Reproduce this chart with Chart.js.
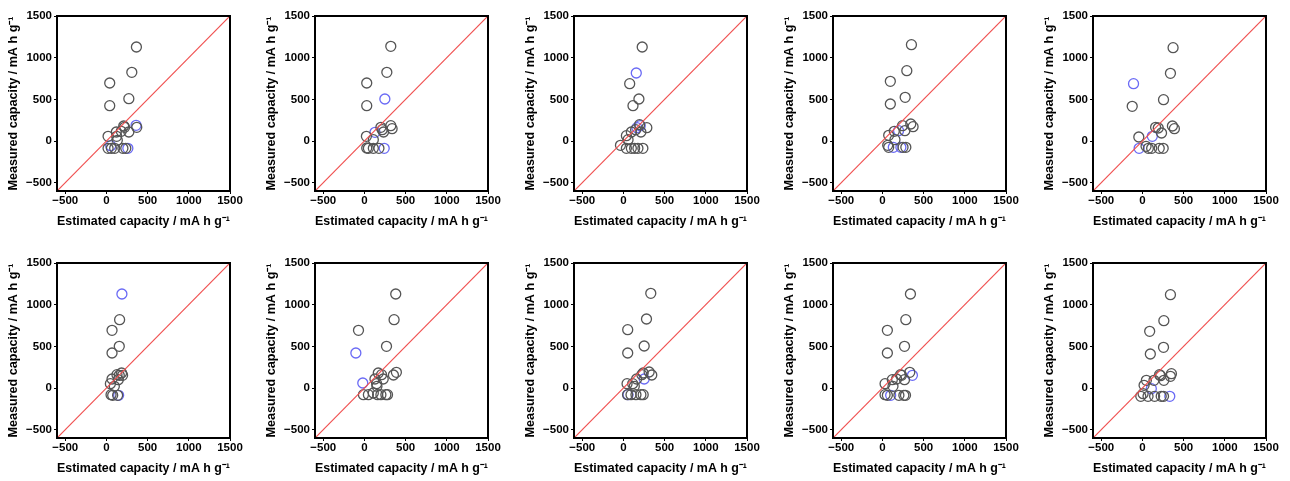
<!DOCTYPE html>
<html>
<head>
<meta charset="utf-8">
<script src="https://cdn.jsdelivr.net/npm/chart.js@4/dist/chart.umd.min.js"></script>
<style>
  body { margin: 0; background: #ffffff; }
  #wrap { position: relative; width: 1290px; height: 481px; }
  .panel { position: absolute; }
</style>
</head>
<body>
<div id="wrap"></div>
<script>
// axis ticks (same for every panel)
const axisTicks = [-500, 0, 500, 1000, 1500];
const axisMin = -600;
const axisMax = 1500;

// grey points: estimated (x) and measured (y) capacity, one row per panel
const greyEstimated = [
    [364, 308, 40, 40, 272, 20, 120, 124, 132, 220, 180, 272, 368, 210, 20, 100, 200, 235, 60],
    [320, 272, 28, 28, 24, 108, 200, 216, 232, 320, 336, 28, 48, 108, 176],
    [228, 76, 188, 116, -36, 36, 56, 96, 148, 196, 212, 284, 36, 96, 136, 176, 236],
    [352, 296, 96, 96, 276, 76, 144, 152, 244, 272, 344, 372, 64, 76, 284, 250],
    [372, 340, 256, -124, -44, 160, 192, 232, 364, 388, 44, 112, 204, 252, 72],
    [160, 68, 68, 156, 68, 48, 96, 128, 156, 184, 196, 144, 56, 76, 136],
    [380, 360, -72, 268, 388, 352, 168, 208, 228, 128, 148, 152, -12, 48, 108, 160, 200, 260, 280],
    [332, 280, 52, 52, 252, 44, 112, 132, 160, 224, 240, 312, 344, 92, 152, 212, 240, 50],
    [340, 284, 60, 60, 268, 32, 120, 128, 172, 220, 232, 268, 332, 32, 60, 200, 260, 280],
    [340, 260, 88, 96, 256, 48, 20, 140, 220, 208, 260, 340, 352, -20, 8, 68, 148, 228, 256]
];
const greyMeasured = [
    [1128, 824, 696, 424, 508, 56, 108, 56, 8, 164, 116, 108, 164, 180, -88, -88, -88, -88, -88],
    [1136, 824, 696, 424, 56, 16, 164, 136, 108, 184, 148, -84, -88, -88, -88],
    [1128, 688, 504, 424, -52, 64, 16, 108, 136, 196, 108, 160, -88, -88, -88, -88, -88],
    [1156, 844, 716, 444, 524, 68, 116, 16, 184, 124, 204, 172, -52, -76, -76, -76],
    [1120, 812, 496, 416, 48, 164, 156, 96, 180, 148, -64, -88, -88, -88, -88],
    [820, 692, 420, 500, 108, 52, 20, 160, 152, 180, 152, 100, -80, -88, -88],
    [1128, 820, 692, 500, 188, 156, 180, 160, 108, 108, 52, 20, -80, -80, -60, -80, -80, -80, -80],
    [1136, 828, 700, 420, 504, 52, 52, 20, 108, 160, 180, 192, 156, -80, -80, -80, -80, -80],
    [1128, 820, 692, 420, 500, 52, 100, 20, 108, 160, 152, 100, 188, -80, -88, -88, -88, -88],
    [1120, 808, 680, 408, 488, 92, 32, 92, 148, 160, 92, 140, 172, -100, -68, -100, -100, -100, -100]
];

// blue (highlighted) points
const blueEstimated = [
    [360, 52, 260],
    [248, 128, 240],
    [156, 164, 204],
    [196, 132, 224],
    [-108, 120, -40],
    [188, 148],
    [-104, -20],
    [56, 252],
    [100, 364],
    [108, 332]
];
const blueMeasured = [
    [188, -56, -88],
    [504, 104, -88],
    [816, 160, 184],
    [124, -76, -76],
    [688, 56, -88],
    [1128, -88],
    [420, 60],
    [-80, 108],
    [-88, 152],
    [-8, -100]
];

const axisLabelX = "Estimated capacity / mA h g\u207B\u00B9";
const axisLabelY = "Measured capacity / mA h g\u207B\u00B9";

// plot area placement on the page
const plotLefts = [57, 315, 574, 833, 1093];
const plotTops = [16, 263];
const plotW = 173;
const plotH = 175;
const yAxisW = 57;
const xAxisH = 44;
const padTop = 10;
const padRight = 14;

Chart.defaults.font.family = "'Liberation Sans', Arial, sans-serif";
Chart.defaults.font.weight = "bold";
Chart.defaults.color = "#000000";

const framePlugin = {
    id: "frame",
    afterDraw(chart) {
        const a = chart.chartArea;
        const ctx = chart.ctx;
        ctx.save();
        ctx.strokeStyle = "#000000";
        ctx.lineWidth = 2;
        ctx.strokeRect(a.left, a.top, a.right - a.left, a.bottom - a.top);
        ctx.restore();
    },
};

function toPoints(xs, ys) {
    return xs.map((x, i) => ({ x: x, y: ys[i] }));
}

function axisOptions(titleText, isX) {
    return {
        type: "linear",
        min: axisMin,
        max: axisMax,
        afterBuildTicks: (scale) => {
            scale.ticks = axisTicks.map((v) => ({ value: v }));
        },
        afterFit: (scale) => {
            if (isX) scale.height = xAxisH;
            else scale.width = yAxisW;
        },
        ticks: {
            font: { size: 11.5, weight: "bold" },
            color: "#000000",
            padding: isX ? 0 : 2,
            maxRotation: 0,
            callback: (v) => String(v).replace("-", "\u2212"),
        },
        grid: {
            drawOnChartArea: false,
            drawTicks: true,
            tickLength: 3,
            color: "#000000",
        },
        border: { display: false },
        title: {
            display: true,
            text: titleText,
            color: "#000000",
            font: { size: 12.6, weight: "bold" },
            padding: isX ? { top: 0, bottom: 6 } : { top: 6, bottom: 0 },
        },
    };
}

const wrap = document.getElementById("wrap");

for (let i = 0; i < 10; i++) {
    const col = i % 5;
    const row = Math.floor(i / 5);
    const w = yAxisW + plotW + padRight;
    const h = padTop + plotH + xAxisH;

    const box = document.createElement("div");
    box.className = "panel";
    box.style.left = plotLefts[col] - yAxisW + "px";
    box.style.top = plotTops[row] - padTop + "px";
    box.style.width = w + "px";
    box.style.height = h + "px";
    const canvas = document.createElement("canvas");
    canvas.width = w;
    canvas.height = h;
    box.appendChild(canvas);
    wrap.appendChild(box);

    new Chart(canvas.getContext("2d"), {
        type: "scatter",
        data: {
            datasets: [
                {
                    type: "line",
                    data: [
                        { x: axisMin, y: axisMin },
                        { x: axisMax, y: axisMax },
                    ],
                    borderColor: "#f05050",
                    borderWidth: 1.2,
                    pointRadius: 0,
                },
                {
                    data: toPoints(greyEstimated[i], greyMeasured[i]),
                    pointRadius: 5,
                    pointBorderWidth: 1.3,
                    pointBorderColor: "#555555",
                    pointBackgroundColor: "rgba(255,255,255,0)",
                },
                {
                    data: toPoints(blueEstimated[i], blueMeasured[i]),
                    pointRadius: 5,
                    pointBorderWidth: 1.3,
                    pointBorderColor: "#6a6af5",
                    pointBackgroundColor: "rgba(255,255,255,0)",
                },
            ],
        },
        options: {
            responsive: false,
            animation: false,
            layout: { padding: { top: padTop, right: padRight, left: 0, bottom: 0 } },
            plugins: {
                legend: { display: false },
                tooltip: { enabled: false },
            },
            scales: {
                x: axisOptions(axisLabelX, true),
                y: axisOptions(axisLabelY, false),
            },
        },
        plugins: [framePlugin],
    });
}
</script>
</body>
</html>
